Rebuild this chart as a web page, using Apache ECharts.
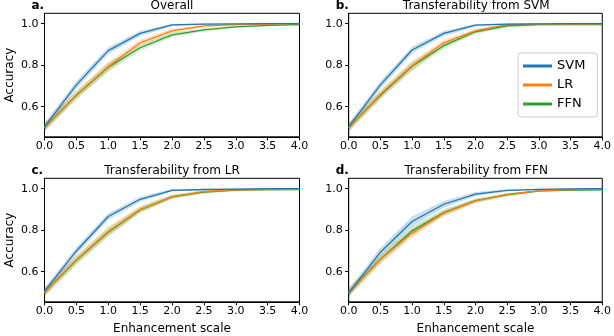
<!DOCTYPE html>
<html>
<head>
<meta charset="utf-8">
<script src="https://cdn.jsdelivr.net/npm/echarts@6/dist/echarts.min.js"></script>
<style>html,body{margin:0;padding:0;background:#fff}#c{width:614px;height:336px}</style>
</head>
<body>
<div id="c"></div>
<script>
// ---- data ----
const scales = [0, 0.5, 1, 1.5, 2, 2.5, 3, 3.5, 4];
const yTicks = [0.6, 0.8, 1.0];
const models = ['SVM', 'LR', 'FFN'];
const panelTitles = ['Overall', 'Transferability from SVM', 'Transferability from LR', 'Transferability from FFN'];
const panelLetters = ['a.', 'b.', 'c.', 'd.'];

const overallSVM = [0.503, 0.705, 0.870, 0.953, 0.994, 0.998, 0.999, 1.000, 1.000];
const overallLR  = [0.500, 0.657, 0.793, 0.908, 0.965, 0.989, 0.995, 0.998, 1.000];
const overallFFN = [0.500, 0.655, 0.790, 0.884, 0.946, 0.970, 0.985, 0.992, 0.995];

const fromSvmSVM = [0.503, 0.705, 0.873, 0.953, 0.993, 0.998, 0.999, 1.000, 1.000];
const fromSvmLR  = [0.500, 0.660, 0.798, 0.908, 0.965, 0.995, 0.997, 0.998, 0.998];
const fromSvmFFN = [0.500, 0.655, 0.795, 0.894, 0.961, 0.990, 0.995, 0.996, 0.996];

const fromLrSVM = [0.505, 0.700, 0.866, 0.949, 0.992, 0.996, 0.998, 1.000, 1.000];
const fromLrLR  = [0.500, 0.658, 0.794, 0.900, 0.962, 0.986, 0.994, 0.996, 0.997];
const fromLrFFN = [0.500, 0.655, 0.790, 0.898, 0.960, 0.983, 0.993, 0.995, 0.995];

const fromFfnSVM = [0.497, 0.694, 0.842, 0.925, 0.974, 0.992, 0.997, 0.999, 1.000];
const fromFfnLR  = [0.500, 0.660, 0.786, 0.882, 0.941, 0.973, 0.989, 0.995, 0.998];
const fromFfnFFN = [0.500, 0.660, 0.797, 0.885, 0.942, 0.970, 0.989, 0.993, 0.994];

// half-widths of the shaded bands
const spreadSVM  = [0.018, 0.018, 0.016, 0.012, 0.006, 0.003, 0.002, 0.001, 0.001];
const spreadLR   = [0.020, 0.020, 0.022, 0.015, 0.010, 0.006, 0.004, 0.003, 0.002];
const spreadFFN  = [0.020, 0.020, 0.020, 0.015, 0.010, 0.008, 0.005, 0.004, 0.003];
const spreadSVMd = [0.018, 0.020, 0.024, 0.016, 0.010, 0.005, 0.003, 0.002, 0.001];

const panelData = [
  [overallSVM, overallLR, overallFFN],
  [fromSvmSVM, fromSvmLR, fromSvmFFN],
  [fromLrSVM, fromLrLR, fromLrFFN],
  [fromFfnSVM, fromFfnLR, fromFfnFFN]
];
const panelSpreads = [
  [spreadSVM, spreadLR, spreadFFN],
  [spreadSVM, spreadLR, spreadFFN],
  [spreadSVM, spreadLR, spreadFFN],
  [spreadSVMd, spreadLR, spreadFFN]
];

// ---- layout / style ----
const colors = ['#1f77b4', '#ff7f0e', '#2ca02c'];
const bandColors = ['rgba(31,119,180,0.25)', 'rgba(255,127,14,0.22)', 'rgba(44,160,44,0.22)'];
const FONT = 'DejaVu Sans';
const lefts = [44.5, 348.7, 44.5, 348.7];
const tops = [13.3, 13.3, 178.3, 178.3];
const GW = 255, GH = 123.5;

function bandSeries(p, m) {
  const vals = panelData[p][m];
  const sp = panelSpreads[p][m];
  const rows = scales.map((x, i) => [x, vals[i] - sp[i], vals[i] + sp[i]]);
  return {
    type: 'custom', name: 'band', xAxisIndex: p, yAxisIndex: p, silent: true, z: 1,
    data: rows, encode: {x: 0, y: [1, 2]},
    renderItem: function (params, api) {
      if (params.dataIndex !== 0) return null;
      const upper = rows.map(r => api.coord([r[0], r[2]]));
      const lower = rows.map(r => api.coord([r[0], r[1]])).reverse();
      return {type: 'polygon', shape: {points: upper.concat(lower)},
        style: {fill: bandColors[m], stroke: null}};
    }
  };
}

const grids = [], xAxes = [], yAxes = [], series = [], titles = [];
for (let p = 0; p < 4; p++) {
  grids.push({left: lefts[p], top: tops[p], width: GW, height: GH, show: true,
    borderColor: '#000', borderWidth: 1, backgroundColor: 'transparent'});
  xAxes.push({type: 'value', gridIndex: p, min: 0, max: 4, interval: 0.5,
    name: p >= 2 ? 'Enhancement scale' : '', nameLocation: 'middle', nameGap: 21,
    nameTextStyle: {fontFamily: FONT, fontSize: 12, color: '#000'},
    axisLine: {show: true, onZero: false, lineStyle: {color: '#000', width: 1}},
    axisTick: {show: true, inside: false, length: 3.5, lineStyle: {color: '#000'}},
    axisLabel: {show: true, margin: 4, fontFamily: FONT, fontSize: 11, color: '#000',
      formatter: v => v.toFixed(1), showMinLabel: true, showMaxLabel: true},
    splitLine: {show: false}});
  yAxes.push({type: 'value', gridIndex: p, min: 0.455, max: 1.05,
    name: (p % 2 === 0) ? 'Accuracy' : '', nameLocation: 'middle', nameGap: 29, nameRotate: 90,
    nameTextStyle: {fontFamily: FONT, fontSize: 12, color: '#000'},
    axisLine: {show: true, lineStyle: {color: '#000', width: 1}},
    axisTick: {show: true, inside: false, length: 3.5, customValues: yTicks, lineStyle: {color: '#000'}},
    axisLabel: {show: true, margin: 6, fontFamily: FONT, fontSize: 11, color: '#000',
      customValues: yTicks, formatter: v => v.toFixed(1)},
    splitLine: {show: false}});
  titles.push({text: panelTitles[p], left: lefts[p] + GW / 2, top: tops[p] - 13, textAlign: 'center',
    padding: 0, textStyle: {fontFamily: FONT, fontSize: 12, fontWeight: 'normal', color: '#000'}});
  titles.push({text: panelLetters[p], left: lefts[p] - 13, top: tops[p] - 13,
    padding: 0, textStyle: {fontFamily: FONT, fontSize: 12, fontWeight: 'bold', color: '#000'}});
  for (let m = 0; m < 3; m++) series.push(bandSeries(p, m));
  for (let m = 0; m < 3; m++) {
    series.push({type: 'line', name: models[m], xAxisIndex: p, yAxisIndex: p,
      data: scales.map((x, i) => [x, panelData[p][m][i]]), symbol: 'none',
      lineStyle: {color: colors[m], width: 1.3}, itemStyle: {color: colors[m]}, z: 3 + (2 - m)});
  }
}

const chart = echarts.init(document.getElementById('c'), null, {renderer: 'canvas'});
chart.setOption({
  animation: false,
  backgroundColor: '#fff',
  title: titles,
  grid: grids,
  xAxis: xAxes,
  yAxis: yAxes,
  legend: {data: models, orient: 'vertical', left: 518, top: 53, icon: 'rect',
    itemWidth: 29, itemHeight: 3, itemGap: 5, padding: [6, 12, 6, 5],
    borderColor: '#cccccc', borderWidth: 1, borderRadius: 3, backgroundColor: '#fff',
    textStyle: {fontFamily: FONT, fontSize: 13, color: '#000', lineHeight: 14}, selectedMode: false},
  series: series
});
</script>
</body>
</html>
